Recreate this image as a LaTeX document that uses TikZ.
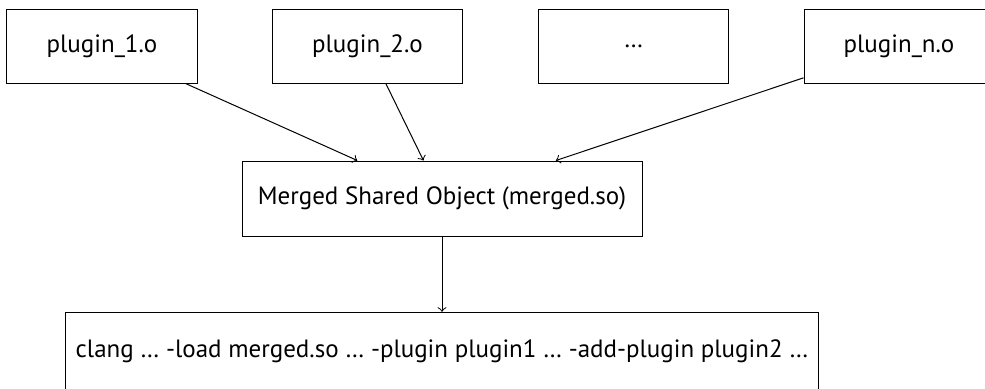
\documentclass[tikz,border=0pt]{standalone}
\usepackage{fontspec}
\setmainfont{PT Sans}
\usepackage{tikz}
\usetikzlibrary{positioning}

\tikzset{
  objbox/.style={draw, rectangle, inner sep=0pt, minimum width=76pt, minimum height=29.6pt},
  mergebox/.style={draw, rectangle, inner sep=0pt, minimum width=160pt, minimum height=30pt},
  cmdbox/.style={draw, rectangle, inner sep=0pt, minimum width=301pt, minimum height=31pt}
}

\begin{document}
\begin{tikzpicture}[x=0.4pt, y=-0.4pt]

\clip (0,0) rectangle (985,388);

% object files
\node (plugA) at (102,46) [objbox] {plugin\_1.o};
\node (plugB) at (367.5,46) [objbox] {plugin\_2.o};
\node (plugDots) at (633.5,46) [objbox] {…};
\node (plugN) at (899,46) [objbox] {plugin\_n.o};

% merged shared object
\node (merged) at (442,198.5) [mergebox] {Merged Shared Object (merged.so)};

\draw [->] (plugA) -- (merged);
\draw [->] (plugB) -- (merged);
\draw [->] (plugN) -- (merged);

% command line
\node (cmd) at (442,351) [cmdbox] {clang … -load merged.so … -plugin plugin1 … -add-plugin plugin2 …};

\draw [->] (merged) -- (cmd);

\end{tikzpicture}
\end{document}
